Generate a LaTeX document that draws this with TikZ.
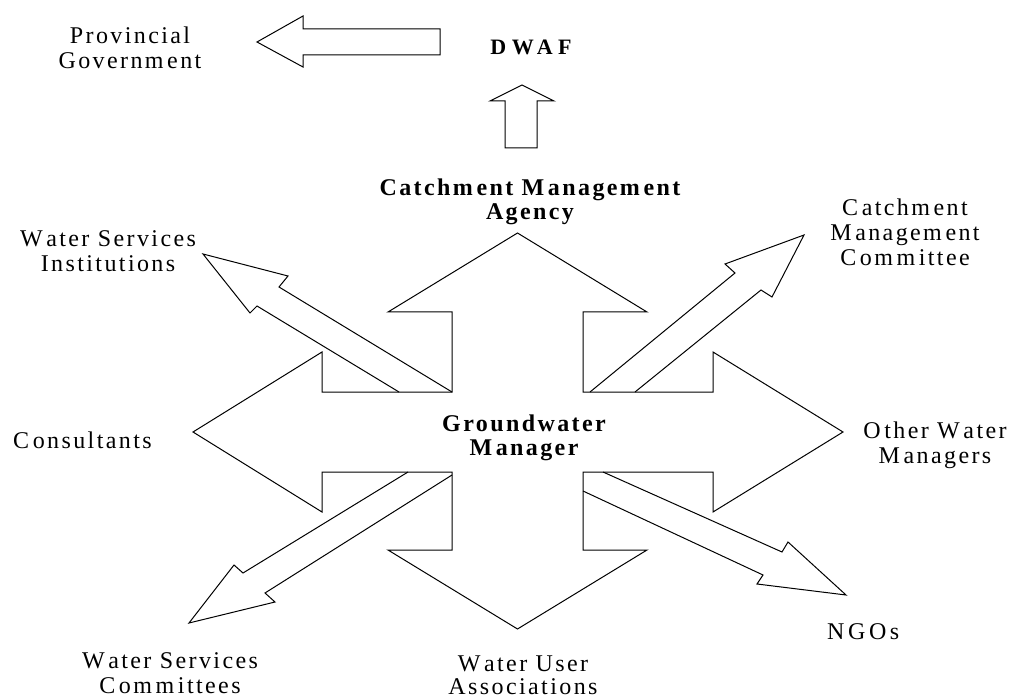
\documentclass[tikz,border=0pt]{standalone}
\usepackage{fontspec}
\setmainfont{Liberation Serif}
\newfontfamily\labfont[LetterSpace=10]{Liberation Serif}
\newfontfamily\dwaffont[LetterSpace=25]{Liberation Serif}
\newcommand\xg{\kern0.15em}
\begin{document}
\begin{tikzpicture}[x=1pt,y=-1pt,
  blockarrow/.style={draw=black, line width=1pt, line join=miter, fill=white},
  thinarrow/.style={draw=black, line width=1pt, line join=miter},
  lbl/.style={font=\labfont\fontsize{24}{25}\selectfont, align=center, inner sep=0pt, anchor=north},
  blbl/.style={font=\labfont\bfseries\fontsize{24}{24}\selectfont, align=center, inner sep=0pt, anchor=north}]
\useasboundingbox (0,0) rectangle (1009,700);

% central cross of four block arrows
\path[blockarrow] (452,392) -- (452,312) -- (388,312) -- (517.5,233) -- (647,312) -- (583,312) -- (583,392)
  -- (713,392) -- (713,352) -- (843,432) -- (713,512) -- (713,472) -- (583,472)
  -- (583,550) -- (647,550) -- (517.5,629) -- (388,550) -- (452,550) -- (452,472)
  -- (322,472) -- (322,512) -- (193,432) -- (322,352) -- (322,392) -- cycle;

% diagonal arrows
\draw[thinarrow] (399,392) -- (257,306) -- (250,313) -- (203,254) -- (288,276) -- (279,287) -- (452,392);
\draw[thinarrow] (590,392) -- (735,273) -- (725,264) -- (804,235) -- (772,297) -- (761,290) -- (635,392);
\draw[thinarrow] (408,472) -- (243,573) -- (234,565) -- (189,623) -- (275,602) -- (265,593) -- (452,475);
\draw[thinarrow] (603,472) -- (782,552) -- (788,542) -- (846,595) -- (757,584) -- (763,575) -- (583,491);

% top arrows
\path[blockarrow] (505,148) -- (505,101) -- (490,101) -- (522,85) -- (554,101) -- (537,101) -- (537,148) -- cycle;
\path[blockarrow] (440,29) -- (303,29) -- (303,16) -- (257,42) -- (303,67) -- (303,55) -- (440,55) -- cycle;

% labels
\node[lbl] (prov) at (130,27) {Provincial\\Governm\xg ent};
\node[font=\dwaffont\bfseries\fontsize{22}{22}\selectfont, inner sep=0pt] (dwaf) at (531,47.5) {DWAF};
\node[blbl] (cma) at (530,179) {Catchm\xg ent M\xg anagem\xg ent\\Agency};
\node[blbl] (gwm) at (524,415) {Groundwater\\M\xg anager};
\node[lbl] (wsi) at (108,230) {W\xg ater Services\\Institutions};
\node[lbl] (cmc) at (905,199) {C\xg atchm\xg ent\\M\xg anagem\xg ent\\C\xg om\xg m\xg ittee};
\node[lbl] (cons) at (82.5,432) {C\xg onsultants};
\node[lbl] (owm) at (935,422) {O\xg ther W\xg ater\\M\xg anagers};
\node[lbl] (wsc) at (170,652) {W\xg ater Services\\C\xg om\xg m\xg ittees};
\node[lbl, font=\labfont\fontsize{24}{23}\selectfont] (wua) at (523,656) {W\xg ater User\\Associations};
\node[lbl, anchor=north west] (ngo) at (827,623) {N\xg G\xg O\xg s};
\end{tikzpicture}
\end{document}
